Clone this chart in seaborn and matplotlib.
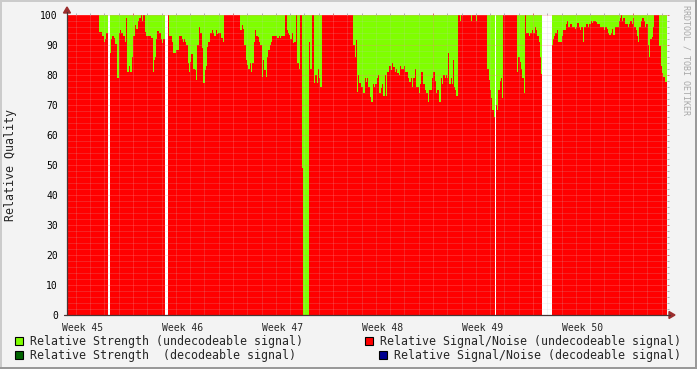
import numpy as np
import matplotlib
matplotlib.use("Agg")
import matplotlib.pyplot as plt
import seaborn as sns
from matplotlib.patches import Rectangle, Polygon
from matplotlib.lines import Line2D

# ---------------- data ----------------
# RRD archive samples: one sample every 1.68 h (0.07 day).
# Sample n is at day T0_DAYS + n*STEP_DAYS, counted from Monday of Week 45.
STEP_DAYS = 0.07
T0_DAYS = -2.31
first_sample = 67
last_sample = 667  # exclusive

# start sample of each run and the relative signal/noise (undecodeable) value of that run
# NaN = no data (unknown)
nan = np.nan
seg_start = [
    67, 99, 102, 104, 105, 106, 108, 110, 111, 112, 114, 115, 117, 119, 120, 121, 123, 125, 126, 127,
    129, 130, 132, 133, 135, 136, 138, 139, 141, 142, 143, 145, 146, 151, 153, 154, 155, 156, 157, 159,
    161, 162, 163, 165, 168, 169, 172, 173, 176, 179, 182, 183, 184, 185, 186, 188, 189, 190, 191, 193,
    195, 196, 197, 199, 200, 202, 203, 205, 206, 207, 208, 210, 212, 213, 214, 216, 217, 218, 221, 223,
    224, 240, 242, 243, 244, 246, 247, 248, 250, 251, 252, 254, 255, 256, 258, 259, 260, 262, 263, 264,
    266, 267, 268, 270, 271, 272, 277, 279, 280, 281, 285, 287, 288, 289, 290, 292, 293, 294, 296, 297,
    299, 300, 302, 303, 309, 310, 312, 314, 315, 317, 318, 319, 320, 322, 353, 355, 356, 357, 358, 359,
    361, 363, 365, 366, 367, 368, 370, 371, 373, 374, 375, 377, 378, 379, 381, 382, 383, 385, 386, 387,
    389, 391, 392, 393, 395, 396, 397, 399, 400, 401, 404, 405, 408, 409, 411, 412, 413, 415, 416, 417,
    419, 420, 421, 423, 425, 426, 428, 429, 432, 433, 435, 436, 437, 439, 441, 442, 443, 445, 446, 447,
    448, 449, 451, 452, 453, 454, 455, 456, 458, 460, 461, 471, 472, 476, 477, 487, 489, 490, 491, 492,
    494, 495, 496, 497, 498, 500, 501, 502, 503, 517, 518, 520, 521, 522, 524, 525, 526, 529, 530, 532,
    533, 535, 536, 537, 539, 540, 541, 542, 552, 553, 554, 555, 557, 558, 562, 563, 566, 567, 568, 570,
    572, 575, 576, 577, 579, 580, 581, 583, 584, 586, 588, 589, 591, 592, 593, 596, 597, 600, 604, 605,
    607, 608, 609, 611, 612, 613, 615, 619, 620, 621, 622, 623, 625, 628, 629, 630, 632, 633, 634, 636,
    637, 638, 639, 641, 642, 644, 645, 646, 648, 649, 650, 652, 653, 654, 659, 661, 662, 663, 665,
]
snr = [
    100, 94.2, 93, 91, 92, 94, nan, 87.2, 92, 93, 92.2, 90.5, 79, 94, 95, 94, 93, 91, 99, 81,
    83, 81, 86, 93, 96.7, 95.5, 98, 99, 100, 98, 100, 94.5, 93, 92.2, 81, 85, 86, 92, 94.8, 94,
    92, 90.8, 92, nan, 100, 93, 91, 87.2, 88.3, 93, 92, 91, 92, 91, 90, 84, 81, 84.4, 87, 82,
    81.7, 78.3, 90, 96, 94, 89, 77.2, 81.7, 83, 89.4, 91, 94, 95, 94, 93, 95, 93.7, 94, 92.2, 91,
    100, 95, 96.7, 95.5, 90, 85, 83.3, 82, 84, 81, 84, 91, 95, 93, 92.8, 91, 90, 79.4, 85, 81.7,
    79.4, 86, 88.3, 90, 91, 93, 92.2, 93, 92.2, 93, 100, 95, 94, 93.5, 92, 94, 90.6, 91, 100, 84,
    82, 100, 49, 0, 91, 82, 100, 77.2, 80, 77.2, 81.9, 78.9, 76, 100, 90, 86, 91.7, 74.4, 80, 77.2,
    75.9, 74.1, 78.9, 77.8, 78.9, 76, 72.8, 71.1, 77, 76, 77, 78.9, 80, 74.1, 75.6, 77, 73, 80, 73, 81,
    83, 81.7, 84, 82.6, 81, 81.9, 80.6, 79.9, 83, 81.9, 83, 81, 78.9, 77.8, 78.9, 75.9, 78.9, 81.9, 76, 75.9,
    74.1, 77, 81, 77, 75, 73.9, 71.1, 75, 78.9, 81, 78.1, 74.1, 75, 71.1, 78.9, 77, 80, 78.9, 80, 78.9,
    87.2, 77, 78.9, 77, 85, 75.9, 75, 73, 100, 98.1, 100, 98, 100, 98, 100, 81.9, 78.3, 75, 72.2, 68.3,
    66, nan, 70, 68.3, 75, 78.1, 78.9, 72.2, 100, 81, 86, 84.4, 82, 78.9, 73.9, 100, 94, 93, 94, 95,
    94, 96, 95, 93, 91, 86, 80.5, nan, 90, 92, 93, 94, 95, 91, 93, 95, 97, 98, 96, 97,
    96, 95.2, 96, 97.2, 96, 95, 96, 91, 96, 97, 96, 97, 98, 97.4, 98, 97.8, 97, 96, 95, 96,
    95.2, 94, 93.3, 94, 95.2, 93.3, 96, 98, 99, 100, 98, 99, 97, 96, 97, 98, 97, 99, 96, 95,
    93, 91, 96, 98.1, 99, 98, 96, 97, 90, 86, 92, 92.8, 96, 100, 89.7, 83, 80.6, 79.4, 77.8,
]
strength_level = 100.0  # relative strength (undecodeable) wherever data exists

week_labels = ["Week 45", "Week 46", "Week 47", "Week 48", "Week 49", "Week 50"]
week_start_days = [0, 7, 14, 21, 28, 35]

legend_labels = [
    "Relative Strength (undecodeable signal)",
    "Relative Signal/Noise (undecodeable signal)",
    "Relative Strength  (decodeable signal)",
    "Relative Signal/Noise (decodeable signal)",
]

GREEN = "#7FFF00"
RED = "#FF0000"
DGREEN = "#006400"
BLUE = "#000090"
legend_colors = [GREEN, RED, DGREEN, BLUE]

# ---------------- build series ----------------
vals = np.repeat(np.array(snr, dtype=float), np.diff(seg_start + [last_sample]))
edges = T0_DAYS + np.arange(first_sample, last_sample + 1) * STEP_DAYS
valid = ~np.isnan(vals)
strength = np.where(valid, strength_level, np.nan)

runs = []
i = 0
while i < len(vals):
    if valid[i]:
        j = i
        while j < len(vals) and valid[j]:
            j += 1
        runs.append((i, j))
        i = j
    else:
        i += 1

# ---------------- figure ----------------
sns.set_theme(style="white")
plt.rcParams["font.family"] = ["DejaVu Sans Mono"]

W, H = 697, 369
BG = "#F3F3F3"
fig = plt.figure(figsize=(W / 100, H / 100), dpi=100, facecolor=BG)


def fx(px):
    return px / W


def fy(py):
    return 1 - py / H


ax = fig.add_axes([fx(67), fy(315), 600 / W, 300 / H])
ax.set_facecolor("white")

for a, b in runs:
    ax.stairs(strength[a:b], edges[a:b + 1], baseline=0, fill=True,
              color=GREEN, lw=0, antialiased=False, zorder=1)
    ax.stairs(vals[a:b], edges[a:b + 1], baseline=0, fill=True,
              color=RED, lw=0, antialiased=False, zorder=1.1)

ax.set_xlim(edges[0], edges[-1])
ax.set_ylim(0, 100)

# grid
major_x = [d for d in range(0, 50, 7) if edges[0] < d < edges[-1]]
minor_x = [d for d in range(-3, 46) if edges[0] < d < edges[-1] and d % 7 != 0]
ax.set_xticks(major_x)
ax.set_xticks(minor_x, minor=True)
ax.set_yticks(np.arange(0, 101, 10))
ax.set_yticks([v for v in range(0, 101, 2) if v % 10], minor=True)
ax.set_axisbelow(False)
ax.grid(which="minor", color="#C8C8C8", alpha=0.35, lw=0.72, ls=(0, (1, 1)))
ax.grid(which="major", color="#FF8080", alpha=0.55, lw=0.72, ls=(0, (1, 1)))

ax.tick_params(axis="both", which="both", direction="out", length=1.5, width=0.72,
               top=True, right=True, labelbottom=False, labelleft=True)
ax.tick_params(which="major", color="#E07070")
ax.tick_params(which="minor", color="#B0B0B0")
ax.set_yticklabels([str(v) for v in range(0, 101, 10)], fontsize=7, color="black")
ax.tick_params(axis="y", pad=5)

# week labels at middle of each week
for lbl, d in zip(week_labels, week_start_days):
    ax.text(d + 3.5, -2.8, lbl, ha="center", va="top", fontsize=7,
            transform=ax.transData, clip_on=False)

for s in ax.spines.values():
    s.set_visible(False)

AX = "#4A3434"
ARW = "#9B2D2D"
fig.add_artist(Line2D([fx(67), fx(67)], [fy(315), fy(12)], color=AX, lw=0.9))
fig.add_artist(Line2D([fx(64), fx(670)], [fy(315), fy(315)], color=AX, lw=0.9))
fig.add_artist(Polygon([[fx(67), fy(7)], [fx(63.5), fy(13)], [fx(70.5), fy(13)]],
                       closed=True, color=ARW, transform=fig.transFigure))
fig.add_artist(Polygon([[fx(675), fy(315)], [fx(669), fy(311.5)], [fx(669), fy(318.5)]],
                       closed=True, color=ARW, transform=fig.transFigure))

# axis title and watermark
fig.text(fx(11), fy(165), "Relative Quality", rotation=90, ha="center", va="center", fontsize=8.35)
fig.text(fx(686), fy(5), "RRDTOOL / TOBI OETIKER", rotation=270, ha="center", va="top",
         fontsize=6, color="#A8A8A8")

# legend (two columns)
leg_rows = [
    (15, 341, legend_labels[0], legend_colors[0]),
    (365, 341, legend_labels[1], legend_colors[1]),
    (15, 355, legend_labels[2], legend_colors[2]),
    (379, 355, legend_labels[3], legend_colors[3]),
]
for x0, yc, lbl, col in leg_rows:
    fig.add_artist(Rectangle((fx(x0), fy(yc + 4)), 8 / W, 8 / H, transform=fig.transFigure,
                             facecolor=col, edgecolor="black", lw=0.8))
    fig.text(fx(x0 + 15), fy(yc), lbl, ha="left", va="center", fontsize=8.37)

# frame shading
fig.add_artist(Rectangle((0, fy(2)), 1, 2 / H, transform=fig.transFigure, color="#CBCBCB", lw=0))
fig.add_artist(Rectangle((0, 0), 2 / W, 1, transform=fig.transFigure, color="#CBCBCB", lw=0))
fig.add_artist(Rectangle((0, 0), 1, 2 / H, transform=fig.transFigure, color="#999999", lw=0))
fig.add_artist(Rectangle((1 - 2 / W, 0), 2 / W, 1, transform=fig.transFigure, color="#999999", lw=0))

fig.savefig("out.png", dpi=100, facecolor=BG)
